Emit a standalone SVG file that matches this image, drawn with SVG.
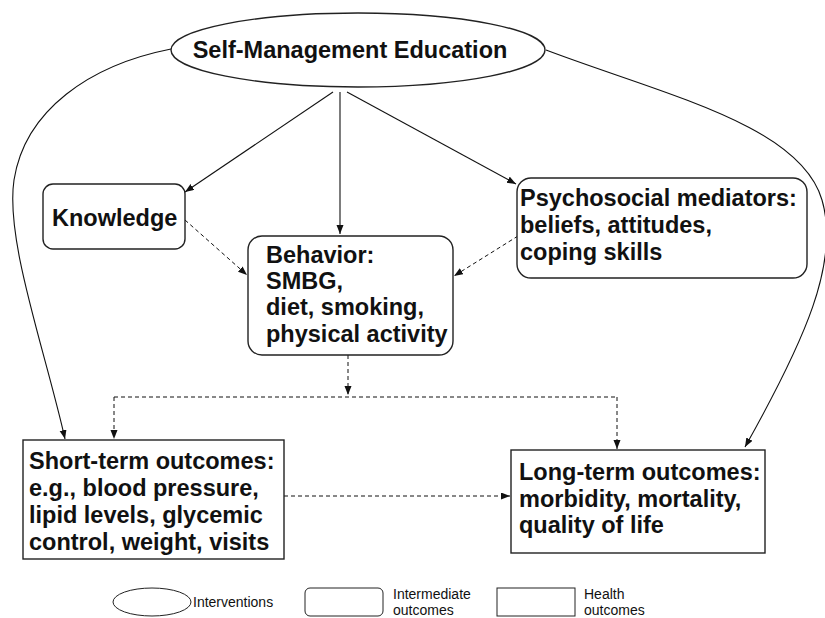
<svg xmlns="http://www.w3.org/2000/svg" width="825" height="618" viewBox="0 0 825 618">
<defs>
<marker id="ah" markerUnits="userSpaceOnUse" markerWidth="10" markerHeight="8" refX="9" refY="3.5" orient="auto">
<path d="M0,0 L9,3.5 L0,7 z" fill="#111"/>
</marker>
<style>
.bg{fill:#fff}
.node{fill:#fff;stroke:#222;stroke-width:1.4}
.t{font-family:"Liberation Sans",Arial,sans-serif;font-weight:bold;font-size:23.5px;fill:#111}
.lg{font-family:"Liberation Sans",Arial,sans-serif;font-size:14px;fill:#111}
.solid{fill:none;stroke:#111;stroke-width:1.1}
.dash{fill:none;stroke:#111;stroke-width:1;stroke-dasharray:4 3}
.arr{marker-end:url(#ah)}
</style>
</defs>
<rect class="bg" x="0" y="0" width="825" height="618"/>

<g id="connectors">
<path class="solid arr" d="M333,92 L185,192"/>
<path class="solid arr" d="M340,92 L340,234"/>
<path class="solid arr" d="M347,92 L516,184"/>
<path class="solid arr" d="M171,49 C90,65 25,110 14,180 C5,240 45,350 65,439"/>
<path class="solid arr" d="M546,50 C665,95 800,125 822,200 C840,262 805,340 745,447"/>
<path class="dash arr" d="M185,220 L247,275"/>
<path class="dash arr" d="M518,236 L454,276"/>
<path class="dash arr" d="M348,355 L348,395"/>
<path class="dash" d="M114,397 L617,397"/>
<path class="dash arr" d="M114,397 L114,439"/>
<path class="dash arr" d="M617,397 L617,449"/>
<path class="dash arr" d="M284,496 L510,496"/>
</g>

<g id="sme">
<ellipse class="node" cx="358" cy="50" rx="187" ry="37"/>
<text class="t" x="350" y="58" text-anchor="middle">Self-Management Education</text>
</g>

<g id="knowledge">
<rect class="node" x="43" y="184" width="142" height="65" rx="10"/>
<text class="t" x="52" y="226">Knowledge</text>
</g>

<g id="behavior">
<rect class="node" x="248" y="236" width="205" height="119" rx="14"/>
<text class="t" x="266" y="263">Behavior:</text>
<text class="t" x="266" y="289">SMBG,</text>
<text class="t" x="266" y="315">diet, smoking,</text>
<text class="t" x="266" y="342">physical activity</text>
</g>

<g id="psychosocial">
<rect class="node" x="517" y="178" width="290" height="100" rx="14"/>
<text class="t" x="520" y="206">Psychosocial mediators:</text>
<text class="t" x="520" y="233">beliefs, attitudes,</text>
<text class="t" x="520" y="260">coping skills</text>
</g>

<g id="shortterm">
<rect class="node" x="23" y="440" width="261" height="119"/>
<text class="t" x="29" y="469">Short-term outcomes:</text>
<text class="t" x="29" y="496">e.g., blood pressure,</text>
<text class="t" x="29" y="523">lipid levels, glycemic</text>
<text class="t" x="29" y="550">control, weight, visits</text>
</g>

<g id="longterm">
<rect class="node" x="511" y="450" width="254" height="103"/>
<text class="t" x="519" y="480">Long-term outcomes:</text>
<text class="t" x="519" y="507">morbidity, mortality,</text>
<text class="t" x="519" y="533">quality of life</text>
</g>

<g id="legend">
<ellipse class="node" style="stroke-width:1" cx="152" cy="602" rx="39" ry="14"/>
<text class="lg" x="193" y="607">Interventions</text>
<rect class="node" style="stroke-width:1" x="305" y="588" width="78" height="28" rx="5"/>
<text class="lg" x="393" y="599">Intermediate</text>
<text class="lg" x="393" y="615">outcomes</text>
<rect class="node" style="stroke-width:1" x="497" y="588" width="78" height="28"/>
<text class="lg" x="584" y="599">Health</text>
<text class="lg" x="584" y="615">outcomes</text>
</g>
</svg>
